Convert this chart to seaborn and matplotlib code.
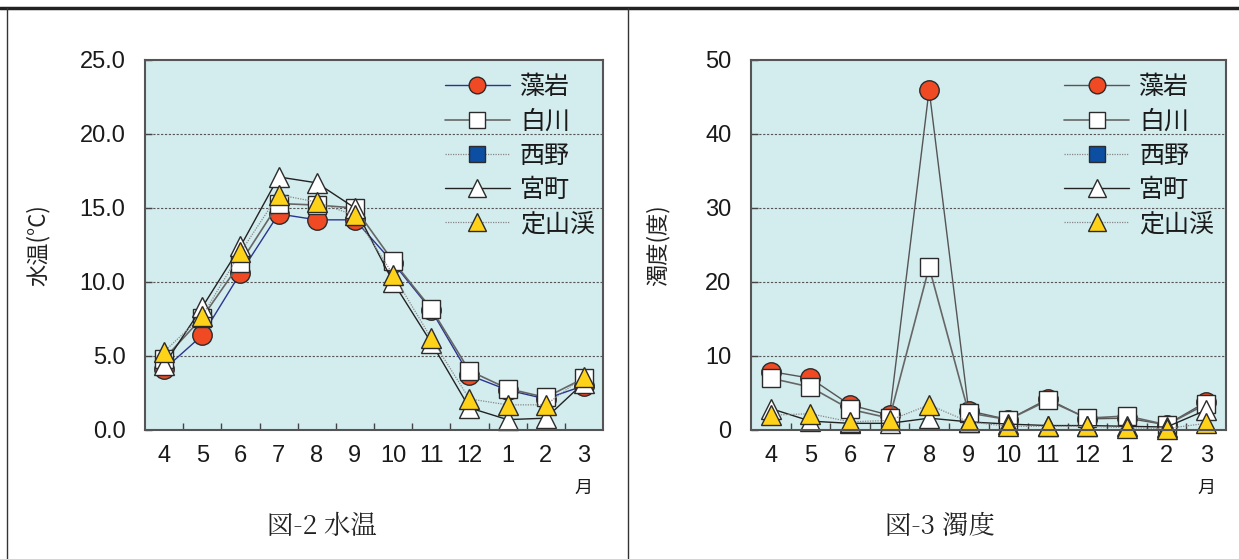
import matplotlib
matplotlib.use("Agg")
import matplotlib.pyplot as plt
import matplotlib.transforms as mtransforms
from matplotlib.lines import Line2D
from matplotlib.ticker import MultipleLocator, FixedLocator
import seaborn as sns
import numpy as np
import pandas as pd

sns.set_theme(style="white")
plt.rcParams['font.family'] = ['Noto Sans CJK JP', 'DejaVu Sans']

# months (April .. March)
months = ["4", "5", "6", "7", "8", "9", "10", "11", "12", "1", "2", "3"]
stations = ["藻岩", "白川", "西野", "宮町", "定山渓"]

# water temperature (°C)
temp_moiwa = [4.1, 6.4, 10.6, 14.6, 14.2, 14.2, 11.3, 8.1, 3.7, 2.7, 2.1, 3.0]
temp_shirakawa = [4.8, 7.6, 11.3, 15.3, 15.2, 15.0, 11.4, 8.2, 4.0, 2.8, 2.2, 3.5]
temp_nishino = [np.nan] * 12
temp_miyamachi = [4.4, 8.3, 12.4, 17.1, 16.7, 15.0, 10.0, 5.9, 1.5, 0.7, 0.8, 3.2]
temp_jozankei = [5.3, 7.7, 12.0, 15.9, 15.4, 14.5, 10.5, 6.2, 2.1, 1.7, 1.7, 3.6]

# turbidity (degree)
turb_moiwa = [7.9, 7.0, 3.4, 2.0, 46.0, 2.6, 1.4, 4.2, 1.5, 1.6, 0.7, 3.8]
turb_shirakawa = [7.0, 5.8, 2.8, 1.6, 22.0, 2.3, 1.4, 4.0, 1.6, 1.9, 0.7, 3.5]
turb_nishino = [np.nan] * 12
turb_miyamachi = [2.9, 1.2, 0.9, 0.9, 1.6, 1.1, 0.8, 0.6, 0.6, 0.5, 0.4, 2.7]
turb_jozankei = [2.0, 2.2, 1.1, 1.3, 3.4, 1.1, 0.5, 0.5, 0.5, 0.3, 0.2, 0.9]

BG = "#d3ecee"
EDGE = "#2b2b2b"
styles = {
    "藻岩": dict(color="#2a3590", ls="-", lw=1.0, marker="o", ms=14, mfc="#f04a24", ms_leg=12),
    "白川": dict(color="#666666", ls="-", lw=1.2, marker="s", ms=13, mfc="white", ms_leg=12),
    "西野": dict(color="#888888", ls=(0, (1, 1)), lw=0.9, marker="s", ms=13, mfc="#0b4ea2", ms_leg=12),
    "宮町": dict(color="#222222", ls="-", lw=1.0, marker="^", ms=15, mfc="white", ms_leg=13),
    "定山渓": dict(color="#888888", ls=(0, (1, 1)), lw=0.9, marker="^", ms=15, mfc="#ffd21a", ms_leg=13),
}

TICK_FONT = ['Liberation Sans Narrow', 'Liberation Sans', 'DejaVu Sans']
CAPTION_FONT = ['Noto Serif CJK JP', 'Noto Sans CJK JP', 'DejaVu Sans']

fig = plt.figure(figsize=(12.39, 5.59), dpi=100)
ax1 = fig.add_axes([145 / 1239, 129 / 559, 458 / 1239, 370 / 559])
ax2 = fig.add_axes([751 / 1239, 129 / 559, 475 / 1239, 370 / 559])


def draw_panel(ax, series, ymax, ystep, fmt, ylabel, ylabel_x, leg_x, moiwa_color):
    x = np.arange(len(months))
    colors = {name: styles[name]["color"] for name in stations}
    colors["藻岩"] = moiwa_color
    for name, vals in zip(stations, series):
        st = styles[name]
        df = pd.DataFrame({"x": x, "y": vals}).dropna()
        if df.empty:
            continue
        sns.lineplot(data=df, x="x", y="y", ax=ax, color=colors[name], linestyle=st["ls"],
                     linewidth=st["lw"], marker=st["marker"], markersize=st["ms"],
                     markerfacecolor=st["mfc"], markeredgecolor=EDGE, markeredgewidth=1.0,
                     legend=False, clip_on=False)
    ax.set_facecolor(BG)
    ax.set_xlim(-0.5, len(months) - 0.5)
    ax.set_ylim(0, ymax)
    ax.set_xlabel("")
    ax.set_ylabel(ylabel, fontsize=16, labelpad=0, color="#222222")
    ax.yaxis.set_label_coords(ylabel_x, 0.5)

    ax.xaxis.set_major_locator(FixedLocator(x))
    ax.set_xticklabels(months)
    ax.xaxis.set_minor_locator(FixedLocator(np.arange(0.5, len(months) - 1, 1.0)))
    ax.tick_params(axis="x", which="major", length=0, pad=11)
    ax.tick_params(axis="x", which="minor", direction="in", length=5, width=1, color="#444444",
                   bottom=True)
    ax.yaxis.set_major_locator(MultipleLocator(ystep))
    ax.yaxis.set_major_formatter(fmt)
    ax.tick_params(axis="y", which="major", direction="in", length=5, width=1, color="#444444",
                   left=True, pad=14)
    for lab in ax.get_xticklabels() + ax.get_yticklabels():
        lab.set_family(TICK_FONT)
        lab.set_fontsize(17)
        lab.set_color("#1a1a1a")

    for yv in np.arange(ystep, ymax, ystep):
        ax.axhline(yv, color="#555555", lw=0.8, ls=(0, (2, 1.5)), zorder=0.5)
    for sp in ax.spines.values():
        sp.set_visible(True)
        sp.set_color("#555555")
        sp.set_linewidth(1.5)

    trans = mtransforms.blended_transform_factory(ax.transData, ax.transAxes)
    ax.text(len(months) - 1, -0.157, "月", transform=trans, ha="center", va="center",
            fontsize=13, color="#1a1a1a")

    handles = []
    for name in stations:
        st = styles[name]
        handles.append(Line2D([0], [0], color=colors[name], linestyle=st["ls"], linewidth=st["lw"],
                              marker=st["marker"], markersize=st["ms_leg"],
                              markerfacecolor=st["mfc"], markeredgecolor=EDGE,
                              markeredgewidth=1.0))
    ax.legend(handles, stations, loc="upper left", bbox_to_anchor=(leg_x, 0.962),
              frameon=False, fontsize=18, handlelength=2.6, handletextpad=0.4,
              labelspacing=0.33, borderpad=0, borderaxespad=0, labelcolor="#1a1a1a")


draw_panel(ax1, [temp_moiwa, temp_shirakawa, temp_nishino, temp_miyamachi, temp_jozankei],
           25, 5, "{x:.1f}", "水温(°C)", -95 / 458, 0.655, "#2a3590")
draw_panel(ax2, [turb_moiwa, turb_shirakawa, turb_nishino, turb_miyamachi, turb_jozankei],
           50, 10, "{x:.0f}", "濁度(度)", -81 / 475, 0.659, "#555555")

# captions
fig.text(322 / 1239, 1 - 527 / 559, "図-2 水温", ha="center", va="center", fontsize=19,
         color="#222222", family=CAPTION_FONT)
fig.text(940 / 1239, 1 - 527 / 559, "図-3 濁度", ha="center", va="center", fontsize=19,
         color="#222222", family=CAPTION_FONT)

# page frame lines
fig.add_artist(Line2D([0, 1], [1 - 8 / 559, 1 - 8 / 559], transform=fig.transFigure,
                      color="#222222", lw=2.5))
fig.add_artist(Line2D([7 / 1239, 7 / 1239], [0, 1 - 8 / 559], transform=fig.transFigure,
                      color="#333333", lw=1.0))
fig.add_artist(Line2D([628 / 1239, 628 / 1239], [0, 1 - 8 / 559], transform=fig.transFigure,
                      color="#333333", lw=1.0))

fig.savefig("out.png", dpi=100)
